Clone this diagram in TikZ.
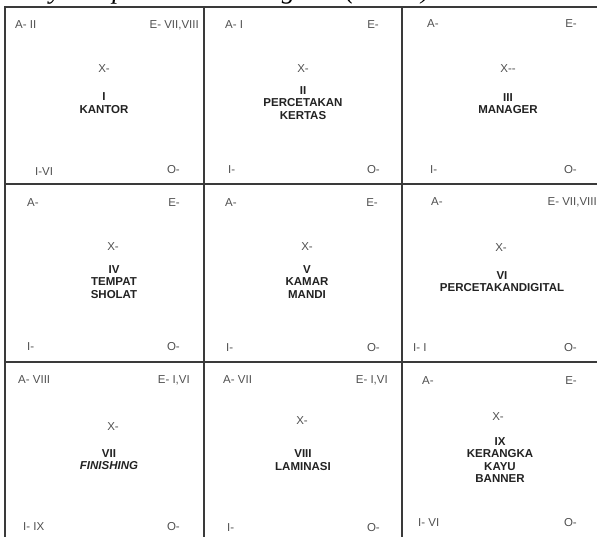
\documentclass[tikz,border=0pt]{standalone}
\usepackage{fontspec}
\setmainfont{Liberation Sans}
\newfontfamily\capfont{Liberation Serif}
\definecolor{gridc}{HTML}{3A3A3A}
\definecolor{labc}{HTML}{505050}
\definecolor{ttlc}{HTML}{222222}
\tikzset{
  gridline/.style={draw=gridc, line width=1.2pt},
  lab/.style={font=\fontsize{11.5}{13}\selectfont, text=labc, inner sep=0pt},
  labl/.style={lab, anchor=west},
  labr/.style={lab, anchor=east},
  labx/.style={lab, anchor=center},
  ttl/.style={font=\bfseries\fontsize{11.5}{12.5}\selectfont, text=ttlc, align=center, inner sep=0pt, anchor=center},
  captxt/.style={font=\capfont\itshape\fontsize{27}{30}\selectfont, text=black, inner sep=0pt, anchor=base west}
}
\begin{document}
\begin{tikzpicture}[x=1pt,y=-1pt]
\useasboundingbox (0,0) rectangle (597,536);
\clip (0,0) rectangle (597,536);
\fill[white] (0,0) rectangle (597,536);
% cut-off caption
\node[captxt] (cap) at (-21,-1.5) {Activity Template Block Diagram (ATBD).};
% grid
\coordinate (tl) at (5,7);
\coordinate (tr) at (600,7);
\coordinate (bl) at (5,540);
\draw[gridline] (bl) -- (tl) -- (tr);
\draw[gridline] (204,7) -- (204,540);
\draw[gridline] (402,7) -- (402,540);
\draw[gridline] (5,184) -- (600,184);
\draw[gridline] (5,362) -- (600,362);
% cell I
\node[labl] (a1) at (15,25) {A- II};
\node[labr] (e1) at (199,25) {E- VII,VIII};
\node[labx] (x1) at (104,69) {X-};
\node[ttl] (t1) at (104,103) {I\\KANTOR};
\node[labl] (i1) at (35,172) {I-VI};
\node[labr] (o1) at (180,170) {O-};
% cell II
\node[labl] (a2) at (225,25) {A- I};
\node[labr] (e2) at (379,25) {E-};
\node[labx] (x2) at (303,69) {X-};
\node[ttl] (t2) at (303,103) {II\\PERCETAKAN\\KERTAS};
\node[labl] (i2) at (228,170) {I-};
\node[labr] (o2) at (380,170) {O-};
% cell III
\node[labl] (a3) at (427,24) {A-};
\node[labr] (e3) at (577,24) {E-};
\node[labx] (x3) at (508,69) {X-{}-};
\node[ttl] (t3) at (508,103.5) {III\\MANAGER};
\node[labl] (i3) at (430,170) {I-};
\node[labr] (o3) at (577,170) {O-};
% cell IV
\node[labl] (a4) at (27,203) {A-};
\node[labr] (e4) at (180,203) {E-};
\node[labx] (x4) at (113,247) {X-};
\node[ttl] (t4) at (114,282) {IV\\TEMPAT\\SHOLAT};
\node[labl] (i4) at (27,347) {I-};
\node[labr] (o4) at (180,347) {O-};
% cell V
\node[labl] (a5) at (225,203) {A-};
\node[labr] (e5) at (378,203) {E-};
\node[labx] (x5) at (307,247) {X-};
\node[ttl] (t5) at (307,282) {V\\KAMAR\\MANDI};
\node[labl] (i5) at (226,348) {I-};
\node[labr] (o5) at (380,348) {O-};
% cell VI
\node[labl] (a6) at (431,202) {A-};
\node[labr] (e6) at (597,202) {E- VII,VIII};
\node[labx] (x6) at (501,248) {X-};
\node[ttl] (t6) at (502,281.5) {VI\\PERCETAKANDIGITAL};
\node[labl] (i6) at (413,348) {I- I};
\node[labr] (o6) at (577,348) {O-};
% cell VII
\node[labl] (a7) at (18,380) {A- VIII};
\node[labr] (e7) at (190,380) {E- I,VI};
\node[labx] (x7) at (113,427) {X-};
\node[ttl] (t7) at (109,459.5) {VII\\\textit{FINISHING}};
\node[labl] (i7) at (23,527) {I- IX};
\node[labr] (o7) at (180,527) {O-};
% cell VIII
\node[labl] (a8) at (223,380) {A- VII};
\node[labr] (e8) at (388,380) {E- I,VI};
\node[labx] (x8) at (302,421) {X-};
\node[ttl] (t8) at (303,460) {VIII\\LAMINASI};
\node[labl] (i8) at (227,528) {I-};
\node[labr] (o8) at (380,528) {O-};
% cell IX
\node[labl] (a9) at (422,381) {A-};
\node[labr] (e9) at (577,381) {E-};
\node[labx] (x9) at (498,417) {X-};
\node[ttl] (t9) at (500,460) {IX\\KERANGKA\\KAYU\\BANNER};
\node[labl] (i9) at (418,523) {I- VI};
\node[labr] (o9) at (577,523) {O-};
\end{tikzpicture}
\end{document}
